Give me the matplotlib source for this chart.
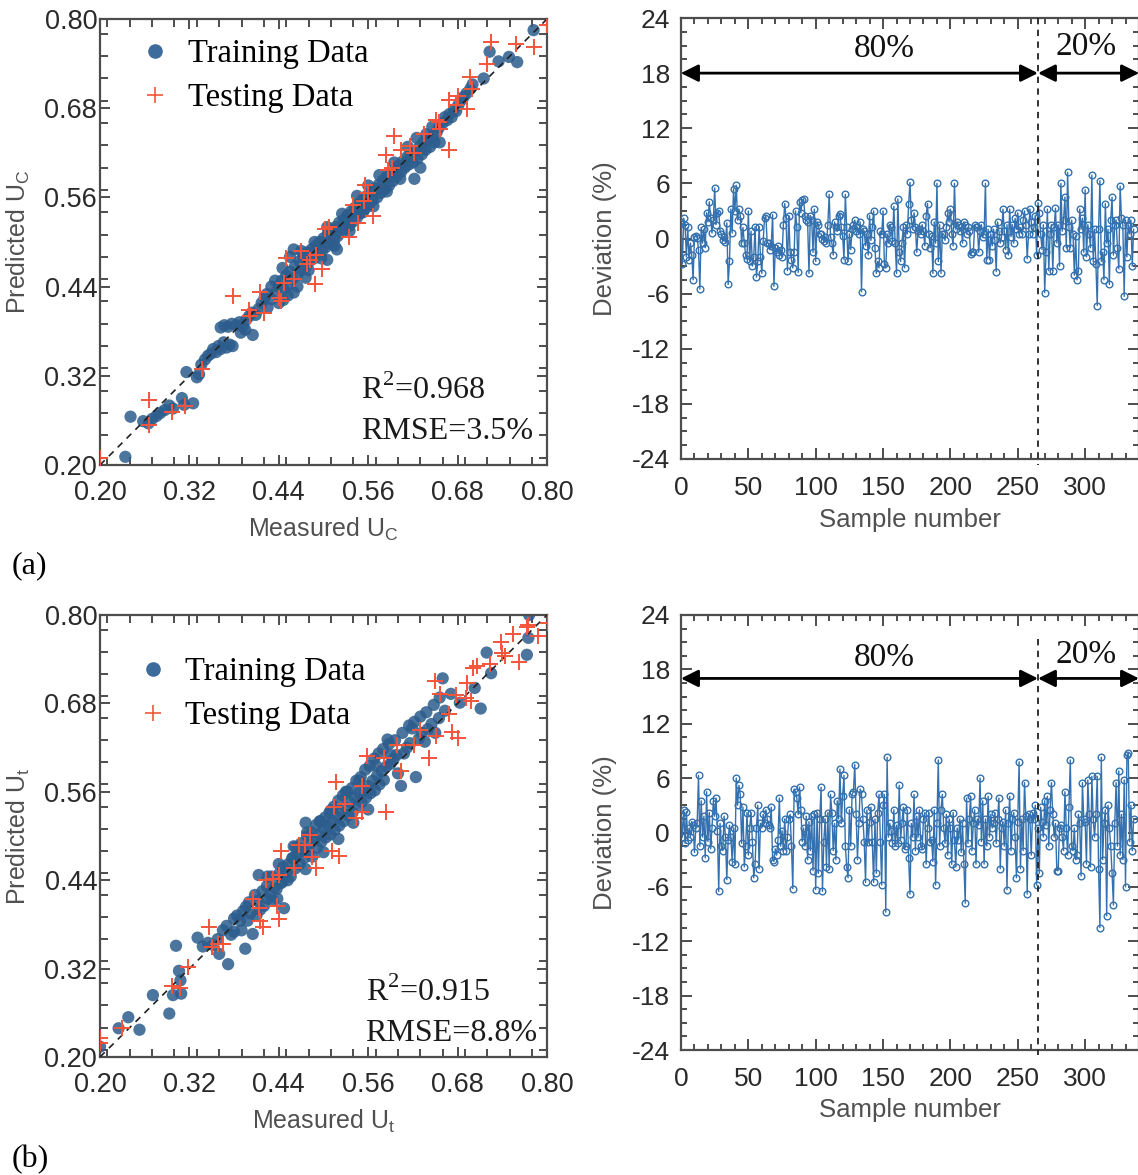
import matplotlib
matplotlib.use("Agg")
import matplotlib.pyplot as plt
from matplotlib.ticker import MultipleLocator, FormatStrFormatter
from matplotlib.lines import Line2D

# ---------------- data ----------------
train_a_x = [0.234,0.241,0.258,0.265,0.270,0.276,0.281,0.287,0.293,0.298,0.310,0.313,0.316,0.325,0.330,0.333,
             0.336,0.341,0.345,0.349,0.352,0.356,0.359,0.362,0.366,0.370,0.374,0.378,0.362,0.367,0.372,0.377,
             0.383,0.387,0.392,0.396,0.389,0.395,0.405,0.400,0.404,0.409,0.413,0.417,0.421,0.425,0.424,0.430,
             0.436,0.440,0.444,0.447,0.450,0.452,0.455,0.458,0.446,0.452,0.460,0.462,0.465,0.468,0.470,0.473,
             0.476,0.478,0.481,0.484,0.487,0.490,0.492,0.495,0.498,0.500,0.503,0.506,0.508,0.511,0.514,0.516,
             0.519,0.521,0.524,0.527,0.529,0.532,0.535,0.537,0.540,0.542,0.545,0.548,0.550,0.553,0.556,0.558,
             0.561,0.564,0.566,0.569,0.572,0.574,0.577,0.580,0.582,0.585,0.588,0.590,0.593,0.596,0.598,0.601,
             0.604,0.606,0.609,0.612,0.614,0.617,0.620,0.622,0.623,0.626,0.629,0.632,0.634,0.637,0.640,0.643,
             0.646,0.649,0.652,0.656,0.655,0.660,0.663,0.666,0.669,0.672,0.675,0.678,0.681,0.684,0.688,0.692,
             0.697,0.700,0.715,0.723,0.735,0.749,0.760,0.782,0.470,0.480,0.488,0.497,0.505,0.515,0.525,0.535,
             0.545,0.553,0.560,0.567,0.575,0.585,0.595,0.603,0.613,0.625,0.638,0.646,0.630,0.518,0.505,0.465,
             0.476,0.440,0.455,0.445,0.435,0.430,0.460]
train_a_y = [0.211,0.265,0.259,0.256,0.262,0.266,0.270,0.274,0.280,0.276,0.290,0.281,0.325,0.283,0.318,0.322,
             0.335,0.342,0.347,0.350,0.356,0.352,0.360,0.356,0.365,0.358,0.362,0.360,0.385,0.388,0.386,0.390,
             0.388,0.392,0.386,0.395,0.378,0.382,0.375,0.400,0.405,0.402,0.410,0.418,0.425,0.412,0.430,0.423,
             0.432,0.440,0.448,0.436,0.455,0.442,0.460,0.450,0.422,0.428,0.432,0.468,0.455,0.474,0.462,0.480,
             0.466,0.486,0.474,0.490,0.478,0.495,0.483,0.500,0.488,0.505,0.493,0.512,0.498,0.516,0.503,0.520,
             0.508,0.526,0.513,0.530,0.518,0.536,0.522,0.541,0.528,0.546,0.533,0.552,0.539,0.557,0.545,0.562,
             0.550,0.567,0.556,0.572,0.560,0.577,0.566,0.583,0.571,0.588,0.576,0.593,0.582,0.598,0.588,0.603,
             0.594,0.608,0.600,0.614,0.604,0.618,0.607,0.585,0.623,0.612,0.628,0.618,0.634,0.624,0.638,0.628,
             0.642,0.634,0.648,0.634,0.654,0.660,0.668,0.664,0.672,0.668,0.678,0.676,0.684,0.690,0.695,0.700,
             0.706,0.712,0.720,0.756,0.743,0.749,0.742,0.785,0.488,0.462,0.500,0.478,0.520,0.495,0.538,0.515,
             0.562,0.540,0.576,0.548,0.590,0.568,0.607,0.585,0.628,0.640,0.645,0.655,0.600,0.490,0.476,0.440,
             0.452,0.418,0.480,0.465,0.448,0.440,0.490]

test_a_x = [0.200,0.266,0.266,0.297,0.314,0.337,0.379,0.400,0.402,0.415,0.420,0.440,0.443,0.447,0.450,0.460,
            0.470,0.478,0.482,0.490,0.488,0.498,0.502,0.507,0.534,0.540,0.546,0.556,0.560,0.555,0.566,0.584,
            0.586,0.592,0.595,0.604,0.616,0.622,0.635,0.651,0.655,0.657,0.668,0.668,0.680,0.678,0.693,0.696,
            0.700,0.719,0.725,0.758,0.783,0.800]
test_a_y = [0.210,0.288,0.254,0.271,0.279,0.329,0.428,0.408,0.400,0.433,0.404,0.425,0.420,0.445,0.478,0.450,
            0.488,0.470,0.476,0.482,0.444,0.464,0.517,0.520,0.507,0.550,0.525,0.577,0.566,0.555,0.535,0.617,
            0.597,0.600,0.643,0.624,0.629,0.620,0.645,0.664,0.662,0.652,0.624,0.691,0.697,0.684,0.679,0.722,
            0.706,0.739,0.769,0.767,0.762,0.792]

train_b_x = [0.200,0.225,0.238,0.253,0.271,0.293,0.298,0.302,0.306,0.309,0.308,0.331,0.338,0.345,0.352,0.358,
             0.372,0.365,0.370,0.376,0.380,0.384,0.388,0.395,0.392,0.396,0.400,0.405,0.402,0.408,0.413,0.412,
             0.418,0.420,0.424,0.428,0.430,0.434,0.438,0.440,0.443,0.447,0.446,0.450,0.453,0.456,0.459,0.462,
             0.465,0.468,0.471,0.474,0.476,0.479,0.482,0.485,0.488,0.491,0.494,0.497,0.500,0.503,0.506,0.509,
             0.512,0.515,0.518,0.521,0.524,0.527,0.530,0.533,0.536,0.539,0.542,0.545,0.548,0.551,0.554,0.557,
             0.560,0.563,0.566,0.569,0.572,0.575,0.578,0.581,0.584,0.586,0.590,0.594,0.598,0.604,0.608,0.612,
             0.616,0.619,0.624,0.628,0.632,0.636,0.640,0.645,0.650,0.655,0.660,0.663,0.671,0.683,0.703,0.711,
             0.719,0.725,0.773,0.775,0.776,0.380,0.390,0.398,0.410,0.415,0.425,0.432,0.437,0.445,0.452,0.458,
             0.463,0.470,0.478,0.484,0.490,0.496,0.502,0.508,0.514,0.520,0.526,0.532,0.538,0.544,0.550,0.556,
             0.562,0.568,0.574,0.580,0.588,0.596,0.606,0.615,0.622,0.630,0.638,0.648,0.656,0.476,0.500,0.520,
             0.540,0.560,0.600,0.425,0.440,0.460,0.478,0.495,0.510,0.530,0.548,0.570,0.590,0.360]
train_b_y = [0.214,0.239,0.254,0.237,0.284,0.259,0.284,0.351,0.317,0.286,0.304,0.362,0.350,0.355,0.352,0.360,
             0.326,0.372,0.378,0.366,0.388,0.392,0.385,0.347,0.398,0.404,0.410,0.367,0.395,0.420,0.447,0.412,
             0.425,0.405,0.432,0.420,0.445,0.430,0.415,0.448,0.436,0.402,0.458,0.450,0.462,0.445,0.470,0.456,
             0.475,0.462,0.482,0.470,0.518,0.478,0.490,0.472,0.496,0.484,0.502,0.492,0.510,0.498,0.514,0.502,
             0.520,0.508,0.526,0.514,0.532,0.520,0.538,0.528,0.546,0.532,0.552,0.540,0.558,0.546,0.562,0.552,
             0.568,0.558,0.575,0.562,0.582,0.570,0.588,0.576,0.594,0.631,0.598,0.604,0.610,0.568,0.612,0.620,
             0.626,0.646,0.580,0.632,0.640,0.628,0.645,0.652,0.640,0.660,0.714,0.670,0.693,0.681,0.701,0.673,
             0.749,0.721,0.746,0.769,0.800,0.370,0.372,0.385,0.392,0.400,0.415,0.412,0.428,0.438,0.440,0.470,
             0.485,0.490,0.500,0.505,0.515,0.520,0.525,0.532,0.540,0.548,0.555,0.560,0.565,0.575,0.580,0.590,
             0.595,0.605,0.612,0.618,0.625,0.630,0.640,0.650,0.655,0.662,0.668,0.678,0.688,0.455,0.478,0.496,
             0.518,0.536,0.585,0.445,0.462,0.486,0.505,0.520,0.535,0.560,0.575,0.596,0.610,0.340]

test_b_x = [0.200,0.200,0.229,0.296,0.308,0.318,0.346,0.350,0.358,0.365,0.405,0.413,0.415,0.419,0.423,0.432,
            0.437,0.440,0.440,0.443,0.460,0.467,0.475,0.485,0.482,0.490,0.512,0.521,0.517,0.514,0.529,0.544,
            0.552,0.552,0.559,0.581,0.584,0.599,0.604,0.621,0.629,0.641,0.651,0.649,0.656,0.668,0.673,0.681,
            0.678,0.691,0.693,0.698,0.701,0.706,0.723,0.738,0.740,0.743,0.755,0.763,0.773,0.788,0.802,0.775]
test_b_y = [0.226,0.219,0.239,0.296,0.294,0.322,0.377,0.349,0.354,0.354,0.415,0.402,0.384,0.377,0.440,0.442,
            0.405,0.387,0.447,0.480,0.457,0.488,0.488,0.472,0.502,0.457,0.480,0.473,0.573,0.540,0.544,0.525,
            0.533,0.568,0.608,0.606,0.533,0.623,0.588,0.623,0.644,0.606,0.636,0.711,0.693,0.666,0.641,0.633,
            0.691,0.688,0.708,0.683,0.728,0.731,0.734,0.764,0.749,0.744,0.774,0.736,0.784,0.771,0.789,0.786]

dev_a = [1.8,-2.8,2.2,1.5,-2.0,1.2,-2.3,-0.5,-1.8,-4.5,
         0.2,0.3,0.1,-1.2,-5.5,1.2,-0.5,1.0,-1.0,2.8,
         1.8,4.0,2.2,0.6,2.0,5.5,1.5,2.8,3.0,0.8,
         0.5,-0.2,0.2,-0.4,1.7,-5.0,-2.5,3.2,0.6,5.4,
         3.0,5.8,2.0,3.2,2.5,-0.5,1.2,-0.5,-1.8,-2.2,
         3.0,-2.5,0.8,-3.0,-2.0,1.3,-4.2,-2.5,1.3,-2.0,
         -3.8,-0.3,2.2,2.5,-0.5,-0.5,-1.2,-0.8,2.6,-5.2,
         -1.0,-1.5,-0.8,-1.8,-1.2,-2.0,1.5,3.8,2.2,-3.5,
         2.5,-1.5,-2.3,-3.2,-1.5,3.0,1.2,-3.7,4.0,2.8,
         4.2,4.3,2.5,2.0,1.8,-3.8,2.5,2.0,-1.5,3.2,
         -2.5,1.8,1.5,0.5,0.5,0.0,-0.3,0.2,-0.5,1.5,
         4.8,0.2,-0.5,-1.8,1.8,1.2,0.8,2.5,2.7,1.2,
         0.3,-2.3,4.8,1.2,-2.5,0.5,-1.2,1.0,1.5,2.0,
         0.8,1.2,0.5,1.8,-5.8,1.0,0.8,-0.8,0.5,-1.8,
         2.5,-0.2,1.2,3.0,-1.0,-3.8,-2.5,-3.2,0.8,0.5,
         3.0,-2.8,-3.2,0.5,-0.5,1.5,1.2,-0.3,3.5,-0.5,
         -3.8,4.3,-1.5,-2.5,-0.5,1.2,-3.2,1.5,0.5,3.8,
         6.1,2.0,1.0,2.8,1.2,-1.5,0.8,1.0,0.5,1.5,
         0.8,-0.8,2.5,3.8,0.5,-1.0,0.3,-3.8,1.8,-0.5,
         6.0,-2.5,1.5,-3.8,0.5,0.5,-0.2,1.2,2.8,1.8,
         3.2,0.5,-0.8,6.0,1.0,1.8,1.5,0.8,1.2,-0.5,
         1.8,1.5,0.5,1.2,0.8,-1.7,-1.5,-1.5,1.5,1.2,
         1.2,-1.5,0.8,1.5,0.2,0.5,6.0,-2.3,1.0,-2.3,
         0.5,-0.8,1.0,-0.2,-3.6,1.8,0.8,-0.5,0.2,3.2,
         0.8,-1.2,1.5,-1.8,3.2,0.2,1.5,-0.5,2.2,1.0,
         2.8,0.5,1.2,0.5,2.0,3.0,1.5,-2.2,0.5,3.2,
         1.8,0.5,1.2,2.5,-1.8,3.9,2.8,0.5,-1.2,1.5,
         -5.9,-1.5,3.2,-3.5,0.5,1.5,-3.5,1.2,3.3,-0.5,
         1.5,-3.0,6.0,0.8,2.0,4.5,-1.0,7.2,1.2,-1.0,
         2.0,0.5,-4.0,0.3,-4.5,-3.5,3.2,1.0,2.2,-1.5,
         5.3,-2.0,1.5,0.5,-1.0,6.9,-2.5,1.0,-2.8,-7.3,
         1.0,6.3,-2.5,-1.5,-4.5,3.8,-0.5,1.0,-5.0,2.0,
         4.5,-1.8,1.5,2.0,-1.0,-3.3,5.7,2.2,1.5,-6.3,
         2.0,-2.0,1.5,0.5,2.0,-3.0,1.0]

dev_b = [2.0,-0.5,2.5,-1.2,2.3,-0.8,0.5,-0.5,1.2,0.8,
         -2.2,0.5,1.0,6.3,-1.5,3.5,-0.5,1.8,-2.8,4.5,
         -1.0,2.2,-1.8,0.5,3.5,1.8,3.8,0.2,-6.5,1.0,
         -1.5,-2.0,1.8,-0.5,-5.2,-0.8,0.8,-0.5,-3.2,0.5,
         -3.5,6.0,3.0,5.2,4.2,-1.2,2.8,-3.8,-1.5,2.2,
         -2.5,0.5,2.2,-1.0,-5.0,-3.5,0.5,3.0,-4.0,1.0,
         0.5,2.0,1.0,2.5,1.5,0.8,0.5,2.8,-3.0,-3.2,
         -1.8,-2.5,-0.8,3.8,-1.5,0.2,-2.0,1.5,-2.0,-0.5,
         1.5,2.0,-1.5,-6.2,4.8,4.5,3.8,2.0,5.0,2.5,
         -1.0,0.5,-1.5,1.8,-3.0,1.2,-2.0,1.8,-4.2,2.0,
         -6.3,2.2,-4.5,1.5,5.0,-6.5,-1.0,1.5,-3.8,2.2,
         -4.0,4.2,2.2,-2.0,1.0,-3.0,3.5,1.5,7.0,1.0,
         4.0,6.3,-1.5,-3.8,-5.0,2.5,-1.5,4.2,4.5,7.5,
         2.0,-3.0,1.0,4.8,4.2,1.5,-1.0,-5.5,2.5,-1.0,
         1.2,2.8,-1.0,-5.5,1.5,-4.5,2.2,4.2,-1.0,-5.8,
         3.0,4.2,-8.8,8.3,-0.5,1.0,0.2,-1.2,2.5,-1.5,
         0.8,-1.2,5.2,-0.8,1.0,2.8,-1.8,-1.5,2.5,-2.8,
         -6.8,1.0,-0.5,4.2,-2.0,1.8,-0.5,2.5,-1.5,-1.8,
         1.5,2.2,-3.5,0.5,2.2,-1.0,-0.8,-3.2,2.5,-5.8,
         1.0,8.0,-1.5,2.5,4.2,0.5,-1.2,2.0,-2.5,1.5,
         0.5,-3.5,2.2,-0.8,-3.8,0.5,-0.8,1.5,-2.2,1.0,
         -3.5,-7.8,3.8,-1.2,1.5,4.0,-2.0,1.0,2.5,-3.5,
         1.5,0.8,6.0,-1.0,3.5,-3.5,1.5,-1.5,4.0,-0.5,
         2.0,0.5,1.0,2.2,-1.2,1.5,3.8,-4.0,0.5,1.2,
         -1.5,2.5,-6.3,1.0,4.0,-2.0,1.5,2.2,-0.5,-5.0,
         1.2,7.8,-4.0,1.5,-2.0,5.5,1.8,-6.8,2.0,1.5,
         -2.5,2.2,1.5,3.0,-5.8,0.5,-4.5,2.8,1.2,-0.5,
         3.5,0.8,4.0,-1.5,2.5,5.5,2.0,-0.5,1.0,-4.2,
         -4.2,0.5,0.8,-0.5,-2.0,4.5,0.5,-2.5,2.8,8.0,
         -1.5,-2.0,0.5,-3.0,-2.5,2.0,1.0,-4.8,5.5,1.5,
         1.2,-3.5,5.8,2.0,-3.8,6.2,1.5,-0.5,2.0,6.2,
         -4.0,-10.5,8.3,-3.0,1.0,2.5,-9.2,3.0,0.5,-1.5,
         -4.5,-8.0,1.0,5.5,-1.5,6.8,-2.5,2.0,-3.0,5.8,
         -6.0,8.5,8.8,-1.0,3.0,-2.0,1.5]

split_index = 265
scatter_ticks = [0.20, 0.32, 0.44, 0.56, 0.68, 0.80]
dev_ticks = [-24, -18, -12, -6, 0, 6, 12, 18, 24]
sample_ticks = [0, 50, 100, 150, 200, 250, 300]

# ---------------- style ----------------
SANS = ['Liberation Sans', 'DejaVu Sans']
SERIF = ['Liberation Serif', 'DejaVu Serif']
plt.rcParams['font.family'] = SANS
plt.rcParams['mathtext.fontset'] = 'custom'
plt.rcParams['mathtext.rm'] = 'Liberation Sans'
plt.rcParams['axes.unicode_minus'] = False

BLUE = '#2c5d8d'
RED = '#f4553a'
LINEBLUE = '#3471ae'
SPINE = '#4d4d4d'
TICKLBL = '#2a2a2a'
AXLBL = '#505050'

W, H = 1138, 1175
fig = plt.figure(figsize=(W / 100, H / 100), dpi=100)


def px_axes(x0, x1, y0, y1):
    return fig.add_axes([x0 / W, 1 - y1 / H, (x1 - x0) / W, (y1 - y0) / H])


def style_spines(ax):
    for s in ax.spines.values():
        s.set_color(SPINE)
        s.set_linewidth(1.6)


def scatter_panel(ax, trx, tr_y, tex, tey, r2, rmse, sub, leg_anchor, txt_x, txt_y):
    ax.scatter(trx, tr_y, s=78, color=BLUE, alpha=0.85, edgecolors='none', zorder=2,
               label='Training Data')
    ax.plot([0.2, 0.8], [0.2, 0.8], color='#222222', lw=1.2, ls=(0, (4, 3.5)), zorder=3)
    ax.scatter(tex, tey, s=125, marker='+', color=RED, linewidths=1.4, zorder=4,
               label='Testing Data')
    ax.set_xlim(0.2, 0.8)
    ax.set_ylim(0.2, 0.8)
    ax.set_xticks(scatter_ticks)
    ax.set_yticks(scatter_ticks)
    ax.xaxis.set_major_formatter(FormatStrFormatter('%.2f'))
    ax.yaxis.set_major_formatter(FormatStrFormatter('%.2f'))
    ax.xaxis.set_minor_locator(MultipleLocator(0.03))
    ax.yaxis.set_minor_locator(MultipleLocator(0.03))
    ax.tick_params(which='both', direction='in', top=True, right=True, color=SPINE, width=1.4)
    ax.tick_params(which='major', length=7)
    ax.tick_params(which='minor', length=6)
    ax.tick_params(axis='x', which='major', labelsize=19.5, labelcolor=TICKLBL, pad=11)
    ax.tick_params(axis='y', which='major', labelsize=19.5, labelcolor=TICKLBL, pad=2)
    style_spines(ax)
    ax.set_xlabel('Measured U$_\\mathregular{%s}$' % sub, fontsize=18, color=AXLBL, va='top')
    ax.set_ylabel('Predicted U$_\\mathregular{%s}$' % sub, fontsize=18, color=AXLBL)
    ax.xaxis.set_label_coords(0.5, -0.115)
    ax.yaxis.set_label_coords(-0.152, 0.5)
    handles = [Line2D([], [], ls='none', marker='o', ms=9.5, color='#3c6c9b'),
               Line2D([], [], ls='none', marker='+', ms=12, mew=1.2, color=RED)]
    ax.legend(handles, ['Training Data', 'Testing Data'], loc='upper left',
              bbox_to_anchor=leg_anchor, frameon=False, borderaxespad=0,
              handlelength=1.0, handletextpad=0.5, labelspacing=0.42,
              prop={'family': SERIF, 'size': 23.5})
    ax.text(txt_x, txt_y[0], 'R$^\\mathregular{2}$=%s' % r2, transform=ax.transAxes,
            family=SERIF, fontsize=23, ha='left', va='center', color='#1a1a1a')
    ax.text(txt_x, txt_y[1], 'RMSE=%s' % rmse, transform=ax.transAxes,
            family=SERIF, fontsize=23, ha='left', va='center', color='#1a1a1a')


def dev_panel(ax, dev, arrow_y, lab80_y, lab20_y, vline_top):
    n = list(range(len(dev)))
    ax.plot(n, dev, color=LINEBLUE, lw=1.0, marker='o', ms=4.8, mfc='none', mec=LINEBLUE,
            mew=1.0, zorder=3)
    ax.set_xlim(0, 340)
    ax.set_ylim(-24, 24)
    ax.set_xticks(sample_ticks)
    ax.set_yticks(dev_ticks)
    ax.xaxis.set_minor_locator(MultipleLocator(10))
    ax.yaxis.set_minor_locator(MultipleLocator(1.5))
    ax.tick_params(which='both', direction='in', top=True, right=True, color=SPINE, width=1.4)
    ax.tick_params(which='major', length=8)
    ax.tick_params(which='minor', length=4)
    ax.tick_params(axis='x', which='major', labelsize=19, labelcolor=TICKLBL, pad=12)
    ax.tick_params(axis='y', which='major', labelsize=19, labelcolor=TICKLBL, pad=8)
    style_spines(ax)
    ax.set_xlabel('Sample number', fontsize=18.5, color=AXLBL, va='top')
    ax.set_ylabel('Deviation (%)', fontsize=18.5, color=AXLBL)
    ax.xaxis.set_label_coords(0.5, -0.11)
    ax.yaxis.set_label_coords(-0.14, 0.5)
    ax.plot([split_index, split_index], [vline_top, -24.6], color='#222222', lw=1.3,
            ls=(0, (3.5, 3)), clip_on=False, zorder=4)
    akw = dict(arrowstyle='<|-|>', mutation_scale=26, color='black', lw=2.0,
               shrinkA=0, shrinkB=0)
    ax.annotate('', xy=(0, arrow_y), xytext=(split_index, arrow_y), arrowprops=akw,
                annotation_clip=False)
    ax.annotate('', xy=(split_index, arrow_y), xytext=(340, arrow_y), arrowprops=akw,
                annotation_clip=False)
    ax.text(151, lab80_y, '80%', family=SERIF, fontsize=24, ha='center', va='center',
            color='#111111')
    ax.text(301, lab20_y, '20%', family=SERIF, fontsize=24, ha='center', va='center',
            color='#111111')


ax1 = px_axes(100, 547, 19, 465)
scatter_panel(ax1, train_a_x, train_a_y, test_a_x, test_a_y, '0.968', '3.5%', 'C',
              (0.058, 0.985), 0.585, (0.168, 0.076))
ax2 = px_axes(681, 1139, 18, 459)
dev_panel(ax2, dev_a, 18, 20.6, 20.9, 24)
ax3 = px_axes(100, 547, 615, 1057)
scatter_panel(ax3, train_b_x, train_b_y, test_b_x, test_b_y, '0.915', '8.8%', 't',
              (0.052, 0.935), 0.594, (0.147, 0.054))
ax4 = px_axes(681, 1139, 615, 1050)
dev_panel(ax4, dev_b, 17, 19.3, 19.6, 21.3)

fig.text(12 / W, 1 - 566 / H, '(a)', family=SERIF, fontsize=23, ha='left', va='center')
fig.text(12 / W, 1 - 1160 / H, '(b)', family=SERIF, fontsize=23, ha='left', va='center')

fig.savefig('out.png', dpi=100)
